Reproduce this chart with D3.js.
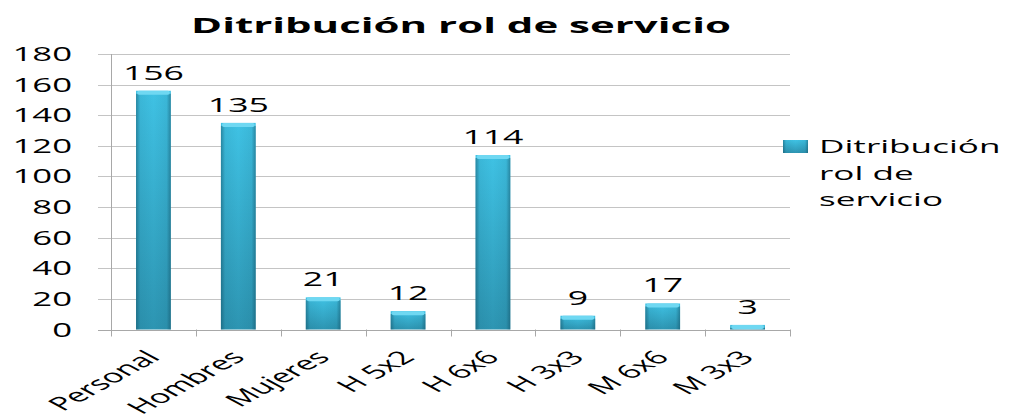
<!DOCTYPE html>
<html><head><meta charset="utf-8">
<script src="https://cdn.jsdelivr.net/npm/d3@7/dist/d3.min.js"></script>
<style>
html,body{margin:0;padding:0;background:#fff;}
svg{display:block;}
text{font-family:"Open Sans",sans-serif;fill:#000;}
</style></head>
<body>
<script>
const categories = ["Personal","Hombres","Mujeres","H 5x2","H 6x6","H 3x3","M 6x6","M 3x3"];
const values = [156,135,21,12,114,9,17,3];
const yTicks = [0,20,40,60,80,100,120,140,160,180];
const titleText = "Ditribución rol de servicio";
const legendLines = ["Ditribución","rol de","servicio"];

const W = 1014, H = 418;
const svg = d3.select("body").append("svg").attr("width", W).attr("height", H);

const defs = svg.append("defs");
const vg = defs.append("linearGradient").attr("id","vgrad").attr("x1",0).attr("y1",0).attr("x2",0).attr("y2",1);
vg.append("stop").attr("offset","0%").attr("stop-color","#3fc2e4");
vg.append("stop").attr("offset","100%").attr("stop-color","#2d95b2");
const hg = defs.append("linearGradient").attr("id","hgrad").attr("x1",0).attr("y1",0).attr("x2",1).attr("y2",0);
hg.append("stop").attr("offset","0%").attr("stop-color","#0b3f52").attr("stop-opacity",0.45);
hg.append("stop").attr("offset","12%").attr("stop-color","#0b3f52").attr("stop-opacity",0.08);
hg.append("stop").attr("offset","50%").attr("stop-color","#0b3f52").attr("stop-opacity",0);
hg.append("stop").attr("offset","88%").attr("stop-color","#0b3f52").attr("stop-opacity",0.08);
hg.append("stop").attr("offset","100%").attr("stop-color","#0b3f52").attr("stop-opacity",0.45);

const x = d3.scaleBand().domain(categories).range([111, 790]).paddingInner(0.59).paddingOuter(0.295);
const y = d3.scaleLinear().domain([0, 180]).range([329.5, 54]);
const step = x.step();

// gridlines
svg.append("g").selectAll("line").data(yTicks).join("line")
  .attr("x1", 98).attr("x2", 790)
  .attr("y1", d => Math.round(y(d)) + 0.5).attr("y2", d => Math.round(y(d)) + 0.5)
  .attr("stroke", "#c4c4c4").attr("stroke-width", 1);

// y axis line
svg.append("line").attr("x1", 111.5).attr("x2", 111.5).attr("y1", y(180)).attr("y2", y(0) + 1)
  .attr("stroke", "#a8a8a8");
// x axis line + ticks
svg.append("line").attr("x1", 98).attr("x2", 790).attr("y1", Math.round(y(0)) + 0.5).attr("y2", Math.round(y(0)) + 0.5)
  .attr("stroke", "#a8a8a8");
svg.append("g").selectAll("line").data(d3.range(categories.length + 1)).join("line")
  .attr("x1", i => Math.round(111 + i * step) + 0.5).attr("x2", i => Math.round(111 + i * step) + 0.5)
  .attr("y1", y(0)).attr("y2", y(0) + 7)
  .attr("stroke", "#a8a8a8");

// y labels
svg.append("g").selectAll("text").data(yTicks).join("text")
  .attr("transform", d => `translate(72,${y(d)}) scale(1.78,1)`)
  .attr("text-anchor", "end").attr("dy", "0.36em")
  .style("font-size", "19.5px")
  .text(d => d);

// bars
const bars = svg.append("g").selectAll("g").data(values).join("g");
bars.append("rect")
  .attr("x", (d, i) => x(categories[i])).attr("width", x.bandwidth())
  .attr("y", d => y(d)).attr("height", d => y(0) - y(d))
  .attr("fill", "url(#vgrad)");
bars.append("rect")
  .attr("x", (d, i) => x(categories[i])).attr("width", x.bandwidth())
  .attr("y", d => y(d) + 3).attr("height", d => Math.max(0, y(0) - y(d) - 3))
  .attr("fill", "url(#hgrad)");
bars.append("rect")
  .attr("x", (d, i) => x(categories[i]) + 1).attr("width", x.bandwidth() - 2)
  .attr("y", d => y(d)).attr("height", d => Math.min(4, y(0) - y(d)))
  .attr("rx", 2)
  .attr("fill", "#6fd8f2");

// value labels
svg.append("g").selectAll("text").data(values).join("text")
  .attr("transform", (d, i) => `translate(${x(categories[i]) + x.bandwidth() / 2},${y(d) - 11}) scale(1.78,1)`)
  .attr("text-anchor", "middle")
  .style("font-size", "20px")
  .text(d => d);

// x labels
svg.append("g").selectAll("text").data(categories).join("text")
  .attr("transform", c => `translate(${x(c) + x.bandwidth() / 2 + 8},${y(0) + 29}) scale(1.85,1) rotate(-45)`)
  .attr("text-anchor", "end")
  .style("font-size", "18.5px")
  .text(c => c);

// title
svg.append("text")
  .attr("transform", `translate(461,33) scale(2.0,1)`)
  .attr("text-anchor", "middle")
  .style("font-size", "21px").style("font-weight", "bold")
  .text(titleText);

// legend
svg.append("rect").attr("x", 783).attr("y", 140).attr("width", 25).attr("height", 13).attr("fill", "url(#vgrad)");
svg.append("rect").attr("x", 783).attr("y", 140).attr("width", 25).attr("height", 13).attr("fill", "url(#hgrad)");
svg.append("g").selectAll("text").data(legendLines).join("text")
  .attr("transform", (d, i) => `translate(819,${153 + i * 26.5}) scale(1.9,1)`)
  .style("font-size", "18.5px")
  .text(d => d);
</script>
</body></html>
